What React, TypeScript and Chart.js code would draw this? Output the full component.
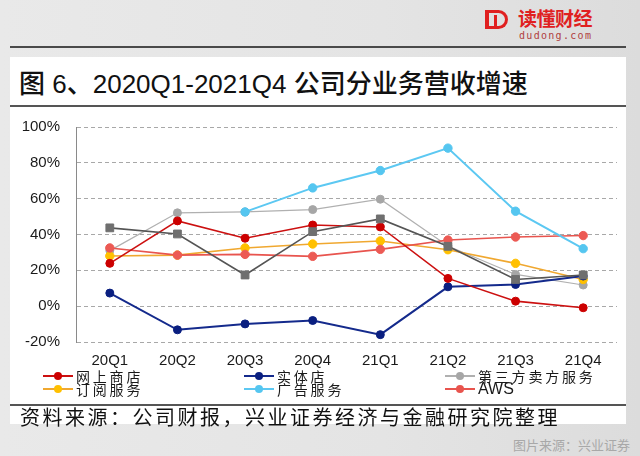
import React, { useEffect, useRef } from "react";
import { Chart, registerables } from "chart.js";

Chart.register(...registerables);

const categories = ["20Q1", "20Q2", "20Q3", "20Q4", "21Q1", "21Q2", "21Q3", "21Q4"];
const onlineStores = [23.9, 47.6, 37.9, 45.3, 44.2, 15.5, 2.8, -0.9];
const physicalStores = [7.3, -13.2, -9.9, -8.0, -15.9, 10.8, 12.1, 16.8];
const thirdPartySeller = [31.0, 52.1, 52.6, 53.9, 59.7, 33.6, 17.7, 11.8];
const subscription = [28.0, 28.5, 32.5, 34.7, 36.4, 31.5, 23.9, 14.9];
const advertising = [null, null, 52.6, 66.0, 75.7, 88.2, 53.0, 32.1];
const aws = [32.5, 28.5, 28.9, 27.8, 31.7, 36.9, 38.6, 39.4];
const unlabeledSeries = [43.7, 40.3, 17.4, 41.6, 48.7, 33.4, 14.9, 17.4];
const yTicks = [-20, 0, 20, 40, 60, 80, 100];

const seriesNames = ["网上商店", "实体店", "第三方卖方服务", "订阅服务", "广告服务", "AWS"];

const FONT = "'Liberation Sans', Arial, 'Noto Sans CJK SC', sans-serif";
const CJK = "'Noto Sans CJK SC', 'Liberation Sans', sans-serif";

type LegendItem = { name: string; line: string; dot: string };
const legendItems: LegendItem[][] = [
  [
    { name: seriesNames[0], line: "#cc1010", dot: "#cc0000" },
    { name: seriesNames[1], line: "#142a8c", dot: "#0a1f80" },
    { name: seriesNames[2], line: "#b0b0b0", dot: "#a6a6a6" },
  ],
  [
    { name: seriesNames[3], line: "#f0a830", dot: "#ffc000" },
    { name: seriesNames[4], line: "#5cc8f2", dot: "#55c6f0" },
    { name: seriesNames[5], line: "#e8544e", dot: "#e8544e" },
  ],
];

const colX = [43, 244, 445];

function ChartCanvas() {
  const ref = useRef<HTMLCanvasElement | null>(null);
  useEffect(() => {
    if (!ref.current) return;
    const mk = (
      label: string,
      data: (number | null)[],
      line: string,
      point: string,
      order: number,
      width = 1.6,
      style: any = "circle",
      radius = 4
    ) => ({
      label,
      data,
      borderColor: line,
      backgroundColor: point,
      pointBackgroundColor: point,
      pointBorderColor: point,
      pointRadius: radius,
      pointStyle: style,
      borderWidth: width,
      pointBorderWidth: 1,
      tension: 0,
      spanGaps: false,
      order,
    });
    const chart = new Chart(ref.current, {
      type: "line",
      data: {
        labels: categories,
        datasets: [
          mk("", unlabeledSeries, "#555555", "#6f6f6f", 0, 1.6, "rect", 5.5),
          mk(seriesNames[4], advertising, "#5cc8f2", "#55c6f0", 1, 2, "circle", 4.2),
          mk(seriesNames[0], onlineStores, "#cc1010", "#cc0000", 2, 1.6),
          mk(seriesNames[1], physicalStores, "#142a8c", "#0a1f80", 3, 2),
          mk(seriesNames[5], aws, "#e8544e", "#ec5a54", 4, 1.6, "circle", 4.2),
          mk(seriesNames[3], subscription, "#f0a830", "#ffc000", 5, 1.6, "circle", 4.2),
          mk(seriesNames[2], thirdPartySeller, "#b0b0b0", "#a6a6a6", 6, 1.2, "circle", 4),
        ],
      },
      options: {
        animation: false,
        responsive: false,
        maintainAspectRatio: false,
        layout: { padding: { top: 7, right: 9, left: 0, bottom: 0 } },
        plugins: {
          legend: { display: false },
          tooltip: { enabled: false },
        },
        scales: {
          x: {
            type: "category",
            offset: true,
            grid: { display: false, drawTicks: false },
            border: { display: false },
            ticks: {
              font: { family: FONT, size: 15 },
              color: "#1a1a1a",
              padding: 10,
              maxRotation: 0,
              autoSkip: false,
            },
            afterFit: (s: any) => {
              s.height = 30;
            },
          },
          y: {
            min: -20,
            max: 100,
            afterBuildTicks: (s: any) => {
              s.ticks = yTicks.map((v) => ({ value: v }));
            },
            grid: { color: "#a8a8a8", lineWidth: 1, drawTicks: false },
            border: { display: true, color: "#8a8a8a", width: 1, dash: [4, 3] },
            ticks: {
              font: { family: FONT, size: 15 },
              color: "#1a1a1a",
              padding: 16,
              callback: (v: any) => `${v}%`,
            },
            afterFit: (s: any) => {
              s.width = 66;
            },
          },
        },
      },
    });
    return () => chart.destroy();
  }, []);
  return <canvas ref={ref} width={616} height={270} style={{ width: 616, height: 270, display: "block" }} />;
}

export default function App() {
  const cjkSpan = (t: string) => (
    <span style={{ fontFamily: CJK, fontWeight: 500 }}>{t}</span>
  );
  return (
    <div
      style={{
        position: "absolute",
        left: 0,
        top: 0,
        width: 640,
        height: 456,
        overflow: "hidden",
        background: "linear-gradient(90deg, #e9e9e9 0%, #e4e4e4 60%, #dcdcdc 100%)",
        fontFamily: FONT,
      }}
    >
      {/* logo */}
      <div style={{ position: "absolute", left: 485, top: 10, width: 26, height: 19 }}>
        <div
          style={{
            position: "absolute",
            left: 4,
            top: 0,
            width: 16,
            height: 13,
            border: "3px solid #e02020",
            borderLeft: "none",
            borderRadius: "0 10px 10px 0",
          }}
        />
        <div style={{ position: "absolute", left: 0, top: 0, width: 4, height: 19, background: "#e02020" }} />
        <div style={{ position: "absolute", left: 9, top: 5, width: 3, height: 11, background: "#e02020" }} />
      </div>
      <div
        style={{
          position: "absolute",
          left: 518,
          top: 7,
          fontFamily: CJK,
          fontWeight: 700,
          fontSize: 19,
          lineHeight: "22px",
          color: "#e02020",
          letterSpacing: -0.5,
        }}
      >
        读懂财经
      </div>
      <div
        style={{
          position: "absolute",
          left: 519,
          top: 30,
          fontFamily: "'DejaVu Sans Mono', monospace",
          fontSize: 10,
          lineHeight: "12px",
          color: "#b04040",
          letterSpacing: 1.3,
        }}
      >
        dudong.com
      </div>
      {/* top rule */}
      <div style={{ position: "absolute", left: 10, top: 46, width: 616, height: 2, background: "#4a4a4a" }} />
      {/* white card */}
      <div style={{ position: "absolute", left: 10, top: 57, width: 616, height: 367, background: "#ffffff" }} />
      <div
        style={{
          position: "absolute",
          left: 19,
          top: 66,
          fontFamily: FONT,
          fontSize: 26,
          lineHeight: "32px",
          color: "#111",
          fontWeight: 400,
          whiteSpace: "nowrap",
        }}
      >
        {cjkSpan("图")} 6{cjkSpan("、")}2020Q1-2021Q4 {cjkSpan("公司分业务营收增速")}
      </div>
      <div style={{ position: "absolute", left: 10, top: 105, width: 616, height: 2, background: "#555" }} />
      <div style={{ position: "absolute", left: 10, top: 102 }}>
        <ChartCanvas />
      </div>
      {/* legend */}
      {legendItems.map((row, ri) =>
        row.map((it, ci) => (
          <div
            key={`${ri}-${ci}`}
            style={{
              position: "absolute",
              left: colX[ci],
              top: 369 + ri * 13,
              height: 14,
              display: "flex",
              alignItems: "center",
              whiteSpace: "nowrap",
            }}
          >
            <div style={{ position: "relative", width: 30, height: 14 }}>
              <div style={{ position: "absolute", left: 0, top: 6, width: 30, height: 2, background: it.line }} />
              <div
                style={{
                  position: "absolute",
                  left: 11,
                  top: 3,
                  width: 8,
                  height: 8,
                  borderRadius: 4,
                  background: it.dot,
                }}
              />
            </div>
            <span
              style={{
                marginLeft: 3,
                fontFamily: it.name === "AWS" ? FONT : CJK,
                fontSize: it.name === "AWS" ? 16 : 14,
                letterSpacing: it.name === "AWS" ? 0 : 2.8,
                lineHeight: "14px",
                color: "#1a1a1a",
              }}
            >
              {it.name}
            </span>
          </div>
        ))
      )}
      <div style={{ position: "absolute", left: 10, top: 404, width: 616, height: 2, background: "#555" }} />
      <div
        style={{
          position: "absolute",
          left: 20,
          top: 405,
          fontFamily: CJK,
          fontSize: 20,
          lineHeight: "24px",
          letterSpacing: 2.5,
          color: "#111",
          whiteSpace: "nowrap",
        }}
      >
        资料来源：公司财报，兴业证券经济与金融研究院整理
      </div>
      <div
        style={{
          position: "absolute",
          right: 10,
          top: 437,
          fontFamily: CJK,
          fontSize: 13,
          lineHeight: "16px",
          color: "#a8a8a8",
          whiteSpace: "nowrap",
        }}
      >
        图片来源：兴业证券
      </div>
    </div>
  );
}
